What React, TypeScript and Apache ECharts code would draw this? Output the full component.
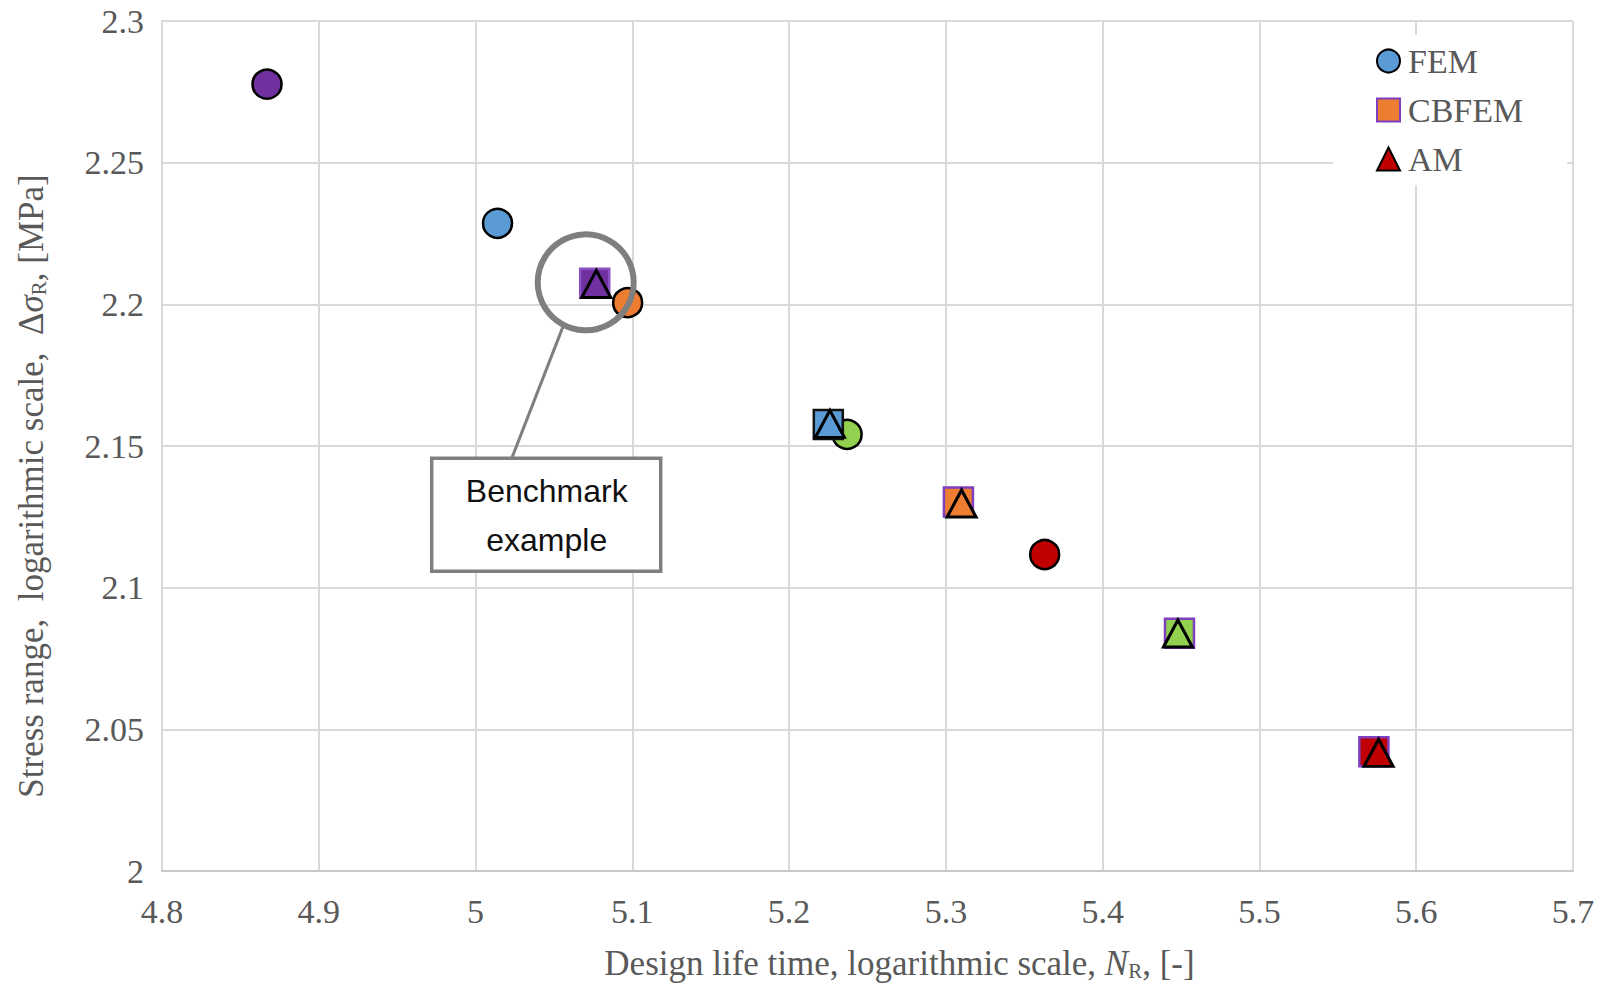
import React, { useEffect, useRef } from 'react';
import * as echarts from 'echarts';

// colours of the five examples (same order in every series)
const groupColors = ['#7030A0', '#5B9BD5', '#ED7D31', '#92D050', '#C00000'];
const cbfemBorders = ['#8A4FC0', '#111111', '#7F3FBF', '#7F3FBF', '#7F3FBF'];

const femX = [4.867, 5.014, 5.097, 5.237, 5.363];
const femY = [2.2777, 2.2286, 2.2006, 2.1541, 2.1117];

const cbfemX = [5.076, 5.225, 5.308, 5.449, 5.573];
const cbfemY = [2.2074, 2.1576, 2.1302, 2.0839, 2.0421];

const amX = [5.077, 5.226, 5.310, 5.448, 5.576];
const amY = [2.2072, 2.1578, 2.1297, 2.0838, 2.0417];

const xTicks = { min: 4.8, max: 5.7, interval: 0.1 };
const yTicks = { min: 2, max: 2.3, interval: 0.05 };

const benchmarkIndex = 0;
const benchmarkLines = ['Benchmark', 'example'];

const SERIF = '"Liberation Serif", "DejaVu Serif", serif';
const TXT = '#595959';
const FS = 34;

const nameRich = {
  i: { fontFamily: SERIF, fontSize: 35, color: TXT, fontStyle: 'italic' },
  sub: { fontFamily: SERIF, fontSize: 21, color: TXT, verticalAlign: 'bottom', lineHeight: 21 },
};

const App: React.FC = () => {
  const ref = useRef<HTMLDivElement>(null);

  useEffect(() => {
    document.body.style.margin = '0';
    if (!ref.current) return;
    const chart = echarts.init(ref.current, undefined, { renderer: 'svg' });

    const pts = (xs: number[], ys: number[], borders?: string[]) =>
      xs.map((x, i) => ({
        value: [x, ys[i]],
        itemStyle: { color: groupColors[i], ...(borders ? { borderColor: borders[i] } : {}) },
      }));

    chart.setOption({
      animation: false,
      backgroundColor: '#fff',
      textStyle: { fontFamily: SERIF },
      grid: { left: 162, right: 27, top: 21, bottom: 123 },
      legend: {
        orient: 'vertical',
        left: 1333,
        top: 35,
        padding: [9, 44, 9, 43],
        backgroundColor: '#fff',
        itemWidth: 23,
        itemHeight: 23,
        itemGap: 15,
        textStyle: { fontFamily: SERIF, fontSize: FS, color: TXT, padding: [0, 0, 0, 3] },
        data: ['FEM', 'CBFEM', 'AM'],
      },
      xAxis: {
        type: 'value',
        ...xTicks,
        axisLine: { show: true, lineStyle: { color: '#c9c9c9', width: 2 } },
        axisTick: { show: false },
        splitLine: { lineStyle: { color: '#d9d9d9', width: 2 } },
        axisLabel: { fontFamily: SERIF, fontSize: FS, color: TXT, margin: 23 },
        name: 'Design life time, logarithmic scale, {i|N}{sub|R}, [-]',
        nameLocation: 'middle',
        nameGap: 75,
        nameTextStyle: {
          fontFamily: SERIF,
          fontSize: 35,
          color: TXT,
          padding: [0, 0, 0, 64],
          rich: nameRich,
        },
      },
      yAxis: {
        type: 'value',
        ...yTicks,
        axisLine: { show: true, lineStyle: { color: '#d9d9d9', width: 2 } },
        axisTick: { show: false },
        splitLine: { lineStyle: { color: '#d9d9d9', width: 2 } },
        axisLabel: { fontFamily: SERIF, fontSize: FS, color: TXT, margin: 18 },
        name: 'Stress range,  logarithmic scale,  Δ{i|σ}{sub|R}, [MPa]',
        nameLocation: 'middle',
        nameGap: 113,
        nameTextStyle: {
          fontFamily: SERIF,
          fontSize: 35,
          color: TXT,
          padding: [0, 80, 0, 0],
          rich: nameRich,
        },
      },
      series: [
        {
          name: 'FEM',
          type: 'scatter',
          symbol: 'circle',
          symbolSize: 29,
          itemStyle: { color: '#5B9BD5', borderColor: '#000', borderWidth: 2.5, opacity: 1 },
          data: pts(femX, femY),
        },
        {
          name: 'CBFEM',
          type: 'scatter',
          symbol: 'rect',
          symbolSize: 29,
          itemStyle: { color: '#ED7D31', borderColor: '#7F3FBF', borderWidth: 2.5, opacity: 1 },
          data: pts(cbfemX, cbfemY, cbfemBorders),
        },
        {
          name: 'AM',
          type: 'scatter',
          symbol: 'triangle',
          symbolSize: [29, 27],
          itemStyle: { color: '#C00000', borderColor: '#000', borderWidth: 3, opacity: 1 },
          data: pts(amX, amY),
        },
      ],
    });

    // benchmark annotation, placed relative to the benchmark point
    const [px, py] = chart.convertToPixel({ gridIndex: 0 }, [cbfemX[benchmarkIndex], cbfemY[benchmarkIndex]]) as number[];
    const gray = '#7f7f7f';
    chart.setOption({
      graphic: [
        {
          type: 'circle',
          z: 100,
          shape: { cx: px - 9, cy: py - 1, r: 48 },
          style: { fill: 'none', stroke: gray, lineWidth: 6 },
        },
        {
          type: 'line',
          z: 100,
          shape: { x1: px - 32, y1: py + 44, x2: px - 83, y2: py + 175 },
          style: { stroke: gray, lineWidth: 3 },
        },
        {
          type: 'rect',
          z: 100,
          shape: { x: px - 163, y: py + 175, width: 229, height: 113 },
          style: { fill: '#fff', stroke: gray, lineWidth: 3.5 },
        },
        ...benchmarkLines.map((t, i) => ({
          type: 'text',
          z: 101,
          x: px - 48,
          y: py + 208 + i * 49,
          style: {
            text: t,
            fill: '#111',
            font: '32px "Liberation Sans", "Noto Sans", sans-serif',
            align: 'center',
            verticalAlign: 'middle',
          },
        })),
      ],
    });

    return () => chart.dispose();
  }, []);

  return <div ref={ref} style={{ width: 1600, height: 994 }} />;
};

export default App;
